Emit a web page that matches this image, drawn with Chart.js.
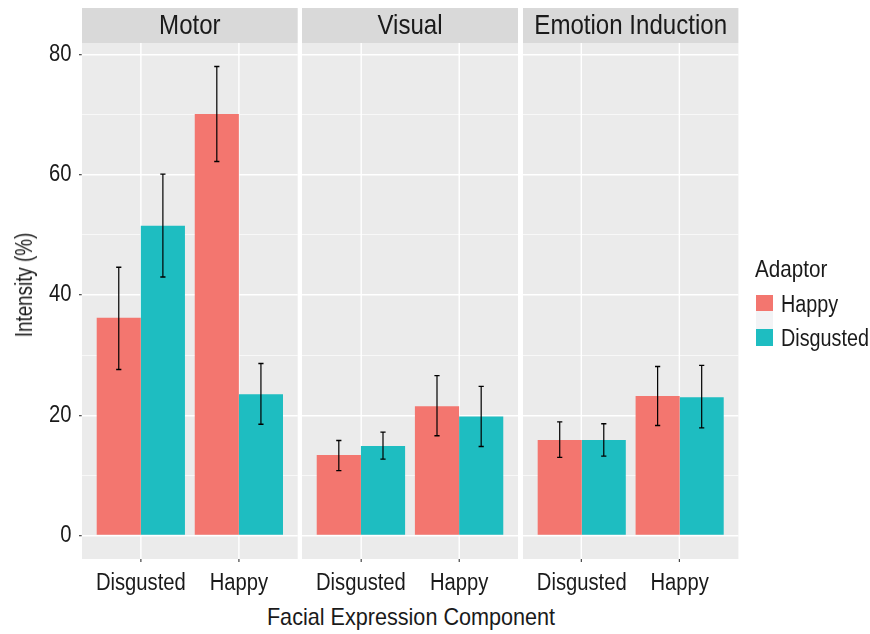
<!DOCTYPE html>
<html>
<head>
<meta charset="utf-8">
<script src="https://cdn.jsdelivr.net/npm/chart.js@4.4.1/dist/chart.umd.min.js"></script>
<style>
  html, body { margin: 0; padding: 0; background: #ffffff; }
  #wrap { position: relative; width: 870px; height: 634px; overflow: hidden;
          font-family: 'Liberation Sans', Arial, sans-serif; color: #1a1a1a; }
  canvas { position: absolute; top: 0; }
  .txt { position: absolute; white-space: nowrap; line-height: 30px; }
  #xtitle { left: 410.5px; top: 617px; font-size: 24px; transform: translate(-50%, -50%) scaleX(0.90); }
  #ytitle { left: 24.3px; top: 284.5px; font-size: 23.5px; transform: translate(-50%, -50%) rotate(-90deg) scaleX(0.80); }
  #legtitle { left: 755px; top: 254px; font-size: 24px; transform-origin: 0 50%; transform: scaleX(0.86); }
  .sw { position: absolute; left: 756px; width: 17px; }
  .lb { left: 781px; font-size: 23px; transform-origin: 0 50%; transform: scaleX(0.86); }
  #keygap { position: absolute; left: 756px; top: 311px; width: 17px; height: 18px; background: #f2f3f5; }
</style>
</head>
<body>
<div id="wrap">
  <canvas id="c0"></canvas>
  <canvas id="c1"></canvas>
  <canvas id="c2"></canvas>
  <div id="xtitle" class="txt">Facial Expression Component</div>
  <div id="ytitle" class="txt">Intensity (%)</div>
  <div id="legtitle" class="txt">Adaptor</div>
  <div id="keygap"></div>
</div>
<script>
// Facet panels and x categories
const panels = ['Motor', 'Visual', 'Emotion Induction'];
const categories = ['Disgusted', 'Happy'];
const adaptors = ['Happy', 'Disgusted'];
const adaptorColors = ['#f3766f', '#1ebdc1'];

// Mean intensity (%) per panel, for Happy and Disgusted adaptors
const happyMean     = [[36.2, 70.1], [13.4, 21.5], [15.9, 23.2]];
const disgustedMean = [[51.5, 23.5], [14.9, 19.8], [15.9, 23.0]];
// Error bar limits
const happyLow      = [[27.6, 62.2], [10.8, 16.6], [13.0, 18.3]];
const happyHigh     = [[44.6, 78.0], [15.8, 26.6], [18.9, 28.1]];
const disgustedLow  = [[43.0, 18.5], [12.7, 14.8], [13.2, 17.9]];
const disgustedHigh = [[60.1, 28.6], [17.2, 24.8], [18.6, 28.3]];

// Y axis ticks
const yMajor = [0, 20, 40, 60, 80];
const yMinor = [10, 30, 50, 70];

const FONT = "'Liberation Sans', Arial, sans-serif";
const K = 0.86;              // horizontal condensing applied to each chart's drawing
const yMin = -3.9, yMax = 81.9;

// screen-space plot areas [left, right] of each facet and canvas left edge
const plotX = [[82, 297.7], [302, 518], [523.3, 738.7]];
const canvasLeft = [0, 302, 523.3];
const plotTop = 43, plotBottom = 559, canvasH = 600;

// Draw everything horizontally condensed so the text gets a narrow face
const condensePlugin = {
  id: 'condense',
  beforeDraw(chart) { chart.ctx.save(); chart.ctx.scale(K, 1); },
  afterDraw(chart) { chart.ctx.restore(); }
};

const panelPlugin = {
  id: 'panel',
  beforeDraw(chart, args, opts) {
    const { ctx, chartArea: a } = chart;
    ctx.save();
    ctx.fillStyle = '#ebebeb';
    ctx.fillRect(a.left, a.top, a.right - a.left, a.bottom - a.top);
    // facet strip
    ctx.fillStyle = '#d9d9d9';
    ctx.fillRect(a.left, 8, a.right - a.left, a.top - 8);
    ctx.fillStyle = '#1a1a1a';
    ctx.font = '28px ' + FONT;
    ctx.textAlign = 'center';
    ctx.textBaseline = 'alphabetic';
    ctx.fillText(opts.title, (a.left + a.right) / 2, 34);
    ctx.restore();
  }
};

const errorPlugin = {
  id: 'errbars',
  afterDatasetsDraw(chart) {
    const { ctx } = chart;
    const y = chart.scales.y;
    ctx.save();
    ctx.strokeStyle = '#000000';
    ctx.lineWidth = 1.2 / K;
    const cap = 2.6 / K;
    chart.data.datasets.forEach((ds, di) => {
      const meta = chart.getDatasetMeta(di);
      meta.data.forEach((bar, i) => {
        const x = bar.x;
        const lo = y.getPixelForValue(ds.low[i]);
        const hi = y.getPixelForValue(ds.high[i]);
        ctx.beginPath();
        ctx.moveTo(x, lo); ctx.lineTo(x, hi);
        ctx.moveTo(x - cap, lo); ctx.lineTo(x + cap, lo);
        ctx.moveTo(x - cap, hi); ctx.lineTo(x + cap, hi);
        ctx.stroke();
      });
    });
    ctx.restore();
  }
};

panels.forEach((name, p) => {
  const cl = canvasLeft[p];
  const leftL = (plotX[p][0] - cl) / K;     // logical chart-area left
  const rightL = (plotX[p][1] - cl) / K;    // logical chart-area right
  const widthL = Math.ceil(rightL) + 4;
  const cv = document.getElementById('c' + p);
  cv.style.left = cl + 'px';
  cv.width = widthL; cv.height = canvasH;
  cv.style.width = widthL + 'px'; cv.style.height = canvasH + 'px';
  const showY = p === 0;

  new Chart(cv, {
    type: 'bar',
    data: {
      datasets: [
        { label: adaptors[0], backgroundColor: adaptorColors[0], borderWidth: 0,
          data: categories.map((c, i) => ({ x: i, y: happyMean[p][i] })),
          low: happyLow[p], high: happyHigh[p] },
        { label: adaptors[1], backgroundColor: adaptorColors[1], borderWidth: 0,
          data: categories.map((c, i) => ({ x: i, y: disgustedMean[p][i] })),
          low: disgustedLow[p], high: disgustedHigh[p] }
      ]
    },
    options: {
      responsive: false,
      animation: false,
      devicePixelRatio: 1,
      categoryPercentage: 0.9,
      barPercentage: 1.0,
      layout: { padding: { left: 0, right: widthL - rightL, top: plotTop, bottom: 0 } },
      plugins: {
        legend: { display: false },
        tooltip: { enabled: false },
        panel: { title: name }
      },
      scales: {
        x: {
          type: 'linear',
          min: -0.6, max: 1.6,
          offset: false,
          afterBuildTicks: s => { s.ticks = categories.map((c, i) => ({ value: i })); },
          afterFit: s => { s.height = canvasH - plotBottom; },
          border: { display: false },
          grid: { offset: false, color: '#ffffff', lineWidth: 1.4 / K,
                  tickColor: '#333333', tickWidth: 1.1 / K, tickLength: 3, drawTicks: true },
          ticks: {
            padding: 7,
            color: '#1a1a1a',
            font: { family: FONT, size: 23.5 },
            maxRotation: 0,
            autoSkip: false,
            callback: v => categories[v]
          }
        },
        y: {
          min: yMin, max: yMax,
          afterBuildTicks: s => {
            s.ticks = yMajor.concat(yMinor).sort((a, b) => a - b).map(v => ({ value: v }));
          },
          afterFit: s => { s.width = leftL; },
          border: { display: false },
          grid: {
            color: '#ffffff',
            lineWidth: c => (yMajor.includes(c.tick.value) ? 1.4 : 0.7),
            tickColor: c => (showY && yMajor.includes(c.tick.value) ? '#333333' : 'rgba(0,0,0,0)'),
            tickWidth: 1.1,
            tickLength: 3 / K,
            drawTicks: showY
          },
          ticks: {
            display: showY,
            padding: 7.5 / K,
            color: '#1a1a1a',
            font: { family: FONT, size: 23.5 },
            autoSkip: false,
            callback: v => (yMajor.includes(v) ? String(v) : '')
          }
        }
      }
    },
    plugins: [condensePlugin, panelPlugin, errorPlugin]
  });
});

// Legend keys built from the adaptor series
const wrap = document.getElementById('wrap');
const keyTop = [295, 329];
const keyH = [16, 17];
const labelMid = [304, 337.7];
adaptors.forEach((a, i) => {
  const sw = document.createElement('div');
  sw.className = 'sw';
  sw.style.top = keyTop[i] + 'px';
  sw.style.height = keyH[i] + 'px';
  sw.style.background = adaptorColors[i];
  wrap.appendChild(sw);
  const lb = document.createElement('div');
  lb.className = 'txt lb';
  lb.style.top = (labelMid[i] - 14.7) + 'px';
  lb.textContent = a;
  wrap.appendChild(lb);
});
</script>
</body>
</html>
